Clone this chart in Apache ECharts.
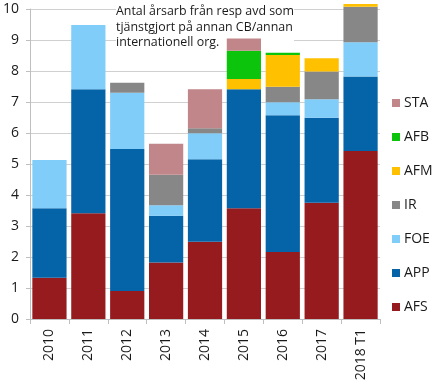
<!DOCTYPE html>
<html>
<head>
<meta charset="utf-8">
<script src="https://cdn.jsdelivr.net/npm/echarts@6/dist/echarts.min.js"></script>
<style>html,body{margin:0;padding:0;background:#fff;}#c{width:433px;height:389px;}</style>
</head>
<body>
<div id="c"></div>
<script>
var categories = ['2010','2011','2012','2013','2014','2015','2016','2017','2018 T1'];
var AFS = [1.33, 3.41, 0.90, 1.82, 2.49, 3.57, 2.16, 3.75, 5.42];
var APP = [2.24, 4.00, 4.58, 1.51, 2.66, 3.84, 4.41, 2.74, 2.40];
var FOE = [1.56, 2.07, 1.82, 0.34, 0.84, 0, 0.42, 0.60, 1.11];
var IR  = [0, 0, 0.32, 0.98, 0.16, 0, 0.50, 0.89, 1.14];
var AFM = [0, 0, 0, 0, 0, 0.33, 1.03, 0.43, 0.09];
var AFB = [0, 0, 0, 0, 0, 0.91, 0.07, 0, 0];
var STA = [0, 0, 0, 1.00, 1.26, 0.40, 0, 0, 0];
var yTicks = [0,1,2,3,4,5,6,7,8,9,10];
var annotation = 'Antal årsarb från resp avd som\ntjänstgjort på annan CB/annan\ninternationell org.';

var FONT = 'Open Sans';
var seriesDefs = [
  ['AFS', AFS, '#961B1F'],
  ['APP', APP, '#0563A8'],
  ['FOE', FOE, '#7FCDF8'],
  ['IR',  IR,  '#878787'],
  ['AFM', AFM, '#FFC000'],
  ['AFB', AFB, '#0BC40B'],
  ['STA', STA, '#C0868A']
];
var chart = echarts.init(document.getElementById('c'), null, {renderer:'canvas'});
chart.setOption({
  animation: false,
  backgroundColor: '#fff',
  grid: {left: 29, right: 53, top: 9, bottom: 70, containLabel: false},
  xAxis: {
    type: 'category', data: categories,
    axisLine: {lineStyle: {color: '#BFBFBF'}},
    axisTick: {show: true, length: 5, lineStyle: {color: '#BFBFBF'}},
    axisLabel: {rotate: 90, margin: 10, fontFamily: FONT, fontSize: 14, color: '#1a1a1a'}
  },
  yAxis: {
    type: 'value', min: 0, max: 10, interval: 1,
    axisLine: {show: true, lineStyle: {color: '#BFBFBF'}},
    axisTick: {show: true, length: 4, lineStyle: {color: '#BFBFBF'}},
    splitLine: {lineStyle: {color: '#D0D0D0'}},
    axisLabel: {margin: 11, fontFamily: FONT, fontSize: 14, color: '#1a1a1a',
      formatter: function(v){ return yTicks.indexOf(v) >= 0 ? String(v) : ''; }}
  },
  legend: {
    orient: 'vertical', left: 387, top: 91,
    data: ['STA','AFB','AFM','IR','FOE','APP','AFS'],
    icon: 'rect', itemWidth: 8, itemHeight: 8, itemGap: 20,
    textStyle: {fontFamily: FONT, fontSize: 14, color: '#1a1a1a', lineHeight: 14, padding: [0,0,0,-1]}
  },
  graphic: [{
    type: 'text', left: 116, top: 4, z: 1,
    style: {text: annotation, fontFamily: FONT, fontSize: 12.4, lineHeight: 15.5, fill: '#1a1a1a',
      backgroundColor: '#fff'}
  }],
  series: seriesDefs.map(function(d){
    return {name: d[0], type: 'bar', stack: 'a', data: d[1], barCategoryGap: '12%',
      clip: false, itemStyle: {color: d[2]}, z: 3};
  })
});
</script>
</body>
</html>
